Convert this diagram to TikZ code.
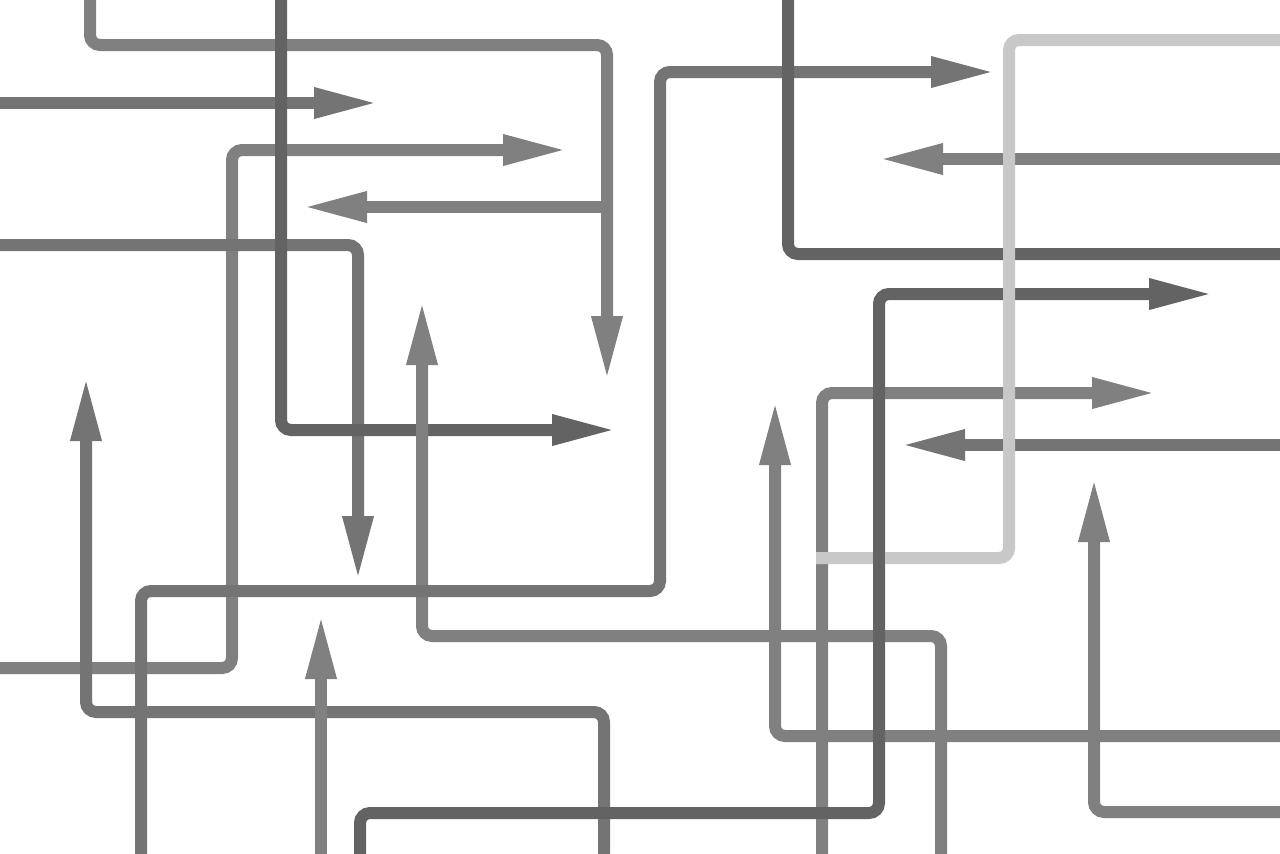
\documentclass[tikz,border=0pt]{standalone}
\usetikzlibrary{arrows.meta}
\definecolor{gA}{HTML}{808080}
\definecolor{gB}{HTML}{747474}
\definecolor{gC}{HTML}{636363}
\definecolor{gD}{HTML}{C8C8C8}
\tikzset{
  pipe/.style={line width=6pt, rounded corners=5pt},
  pA/.style={pipe, draw=gA},
  pB/.style={pipe, draw=gB},
  pC/.style={pipe, draw=gC},
  pD/.style={pipe, draw=gD},
  tip/.style={-{Triangle[length=32.5pt,width=14pt]}, shorten >=-2.5pt},
}
\begin{document}
\begin{tikzpicture}[x=0.5pt,y=-0.5pt]
\fill[white] (0,0) rectangle (1280,853);
\useasboundingbox (0,0) rectangle (1280,853);
\clip (0,0) rectangle (1280,853);
% A
\draw[pA,tip] (90,-10) -- (90,45) -- (607,45) -- (607,376);
\draw[pA,tip] (607,207) -- (307,207);
% C
\draw[pB,tip] (-10,103) -- (374,103);
% D
\draw[pA,tip] (-10,668) -- (232,668) -- (232,150) -- (563,150);
% E
\draw[pB,tip] (-10,245) -- (358,245) -- (358,576);
% B
\draw[pC,tip] (281,-10) -- (281,430) -- (612,430);
% G
\draw[pB,tip] (604,863) -- (604,712) -- (86,712) -- (86,381);
% F
\draw[pA,tip] (941,863) -- (941,636) -- (422,636) -- (422,305);
% I
\draw[pA,tip] (321,863) -- (321,619);
% H
\draw[pB,tip] (141,863) -- (141,591) -- (660,591) -- (660,72) -- (991,72);
% L
\draw[pA,tip] (1290,159) -- (883,159);
% J
\draw[pC] (788,-10) -- (788,254) -- (1290,254);
% O
\draw[pB,tip] (1290,445) -- (905,445);
% N
\draw[pA,tip] (822,863) -- (822,393) -- (1152,393);
% P
\draw[pA,tip] (1290,736) -- (775,736) -- (775,405);
% Q
\draw[pA,tip] (1290,812) -- (1094,812) -- (1094,482);
% M
\draw[pC,tip] (360,863) -- (360,813) -- (879,813) -- (879,294) -- (1209,294);
% K
\draw[pD] (1290,40) -- (1009,40) -- (1009,558) -- (816,558);
% M over K
\draw[line width=6pt, draw=gC] (879,540) -- (879,576);
\end{tikzpicture}
\end{document}
